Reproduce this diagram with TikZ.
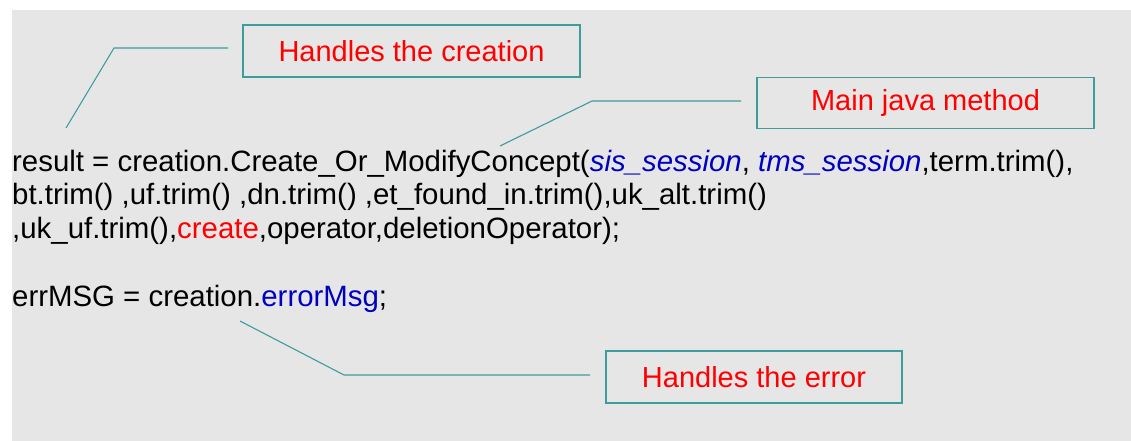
\documentclass[tikz,border=0pt]{standalone}
\usepackage{fontspec}
\setmainfont{Liberation Sans}
\definecolor{slidegrey}{HTML}{E6E6E6}
\definecolor{calloutline}{HTML}{3F9C9C}
\definecolor{calloutred}{HTML}{FF0000}
\definecolor{codeblue}{HTML}{0000C0}
\begin{document}
\begin{tikzpicture}[x=1pt,y=-1pt,
  bigtext/.style={font=\fontsize{29}{33}\selectfont},
  codeline/.style={font=\fontsize{29.4}{33}\selectfont,anchor=base west,inner sep=0pt,text=black},
  callout/.style={draw=calloutline,line width=1.4pt,fill=slidegrey,bigtext,
    text=calloutred,inner sep=0pt,minimum height=52pt},
  leader/.style={draw=calloutline,line width=1.1pt}]
\useasboundingbox (0,0) rectangle (1131,441);
% slide background
\fill[slidegrey] (12,10) rectangle (1131,441);

% code listing
\node[codeline] (l1) at (12,171.5) {result = creation.Create\_Or\_ModifyConcept(\textcolor{codeblue}{\itshape sis\_session}, \textcolor{codeblue}{\itshape tms\_session},term.trim(),};
\node[codeline] (l2) at (12,204.8) {bt.trim() ,uf.trim() ,dn.trim() ,et\_found\_in.trim(),uk\_alt.trim()};
\node[codeline] (l3) at (12,238) {,uk\_uf.trim(),\textcolor{calloutred}{create},operator,deletionOperator);};
\node[codeline] (l4) at (12,306.5) {errMSG = creation.\textcolor{codeblue}{errorMsg};};

% callout boxes
\node[callout,minimum width=337pt] (creation) at (411.5,51) {Handles the creation};
\node[callout,minimum width=337pt,minimum height=51pt] (mainmethod) at (925.5,103) {Main java method};
\node[callout,minimum width=296pt] (error) at (754,377) {Handles the error};

% leader line ends
\coordinate (creationA) at (228,48);
\coordinate (creationB) at (114,48);
\coordinate (creationC) at (66,128);
\coordinate (methodA) at (741,101);
\coordinate (methodB) at (592,101);
\coordinate (methodC) at (500,146);
\coordinate (errorA) at (590,375);
\coordinate (errorB) at (344,375);
\coordinate (errorC) at (240,321);

\draw[leader] (creationA) -- (creationB) -- (creationC);
\draw[leader] (methodA) -- (methodB) -- (methodC);
\draw[leader] (errorA) -- (errorB) -- (errorC);
\end{tikzpicture}
\end{document}
